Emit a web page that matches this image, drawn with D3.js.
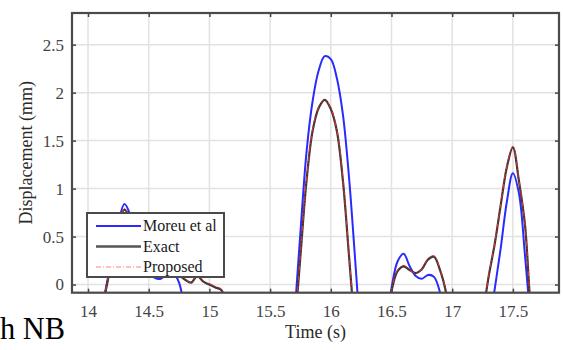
<!DOCTYPE html>
<html>
<head>
<meta charset="utf-8">
<script src="https://cdn.jsdelivr.net/npm/d3@7"></script>
<style>
  html, body { margin: 0; padding: 0; background: #fff; }
  svg { display: block; }
  svg text { font-family: "Liberation Serif", "Times New Roman", "DejaVu Serif", serif !important; }
</style>
</head>
<body>
<svg id="chart" width="563" height="350"></svg>
<script>
// ---- data ----
const times = [13.90,13.95,14.00,14.05,14.10,14.15,14.20,14.25,14.30,14.35,
  14.40,14.45,14.50,14.55,14.60,14.65,14.70,14.75,14.80,14.85,
  14.90,14.95,15.00,15.05,15.10,15.15,15.20,15.25,15.30,15.35,
  15.40,15.45,15.50,15.55,15.60,15.65,15.70,15.75,15.80,15.85,
  15.90,15.95,16.00,16.05,16.10,16.15,16.20,16.25,16.30,16.35,
  16.40,16.45,16.50,16.55,16.60,16.65,16.70,16.75,16.80,16.85,
  16.90,16.95,17.00,17.05,17.10,17.15,17.20,17.25,17.30,17.35,
  17.40,17.45,17.50,17.55,17.60,17.65,17.70,17.75,17.80,17.85];

const moreu = [null,null,null,null,-0.35,-0.02,0.30,0.64,0.84,0.72,
  0.45,0.26,0.13,0.07,0.06,0.11,0.12,0.02,-0.35,null,
  null,null,null,null,null,null,null,null,null,null,
  null,null,null,null,null,null,-0.35,0.55,1.38,1.91,
  2.23,2.38,2.35,2.15,1.77,1.12,0.27,-0.64,null,null,
  null,-0.5,-0.04,0.24,0.32,0.19,0.09,0.06,0.10,0.08,
  -0.085,-0.45,null,null,null,null,null,null,-0.5,-0.05,
  0.38,0.86,1.16,0.95,0.30,-0.45,null,null,null,null];

const exact = [null,null,null,null,-0.38,-0.04,0.28,0.60,0.78,0.68,
  0.45,0.28,0.18,0.13,0.12,0.13,0.13,0.10,0.05,0.02,
  0.09,0.03,0.00,-0.03,-0.06,-0.30,-0.60,null,null,null,
  null,null,null,null,null,null,-0.5,0.30,1.08,1.60,
  1.84,1.925,1.83,1.60,1.08,0.30,-0.5,null,null,null,
  null,-0.5,-0.07,0.14,0.19,0.15,0.12,0.16,0.26,0.29,
  0.15,-0.085,-0.5,null,null,null,null,-0.35,0.08,0.42,
  0.83,1.22,1.43,1.08,0.62,-0.30,-0.80,null,null,null];

const proposed = [null,null,null,null,-0.37,-0.03,0.29,0.61,0.79,0.68,
  0.46,0.28,0.18,0.13,0.12,0.13,0.13,0.10,0.06,0.02,
  0.10,0.04,0.01,-0.02,-0.05,-0.28,-0.60,null,null,null,
  null,null,null,null,null,null,-0.48,0.32,1.09,1.61,
  1.85,1.93,1.84,1.61,1.09,0.32,-0.48,null,null,null,
  null,-0.5,-0.06,0.15,0.20,0.15,0.12,0.16,0.27,0.30,
  0.16,-0.07,-0.5,null,null,null,null,-0.34,0.09,0.43,
  0.84,1.23,1.44,1.09,0.63,-0.28,-0.80,null,null,null];

const seriesNames = ["Moreu et al", "Exact", "Proposed"];
const xTicks = [14, 14.5, 15, 15.5, 16, 16.5, 17, 17.5];
const xTickLabels = ["14", "14.5", "15", "15.5", "16", "16.5", "17", "17.5"];
const yTicks = [0, 0.5, 1, 1.5, 2, 2.5];
const yTickLabels = ["0", "0.5", "1", "1.5", "2", "2.5"];
const xTitle = "Time (s)";
const yTitle = "Displacement (mm)";
const captionText = "h NB";

// ---- layout ----
const FONT = '"Liberation Serif", "Times New Roman", serif';
const L = 72, R = 559, T = 13, B = 292.7;
const svg = d3.select("#chart");
const x = d3.scaleLinear().domain([13.868, 17.88]).range([L, R]);
const y = d3.scaleLinear().domain([-0.085, 2.83]).range([B, T]);

// grid
const grid = svg.append("g");
grid.selectAll("line.gx").data(xTicks).join("line")
  .attr("x1", d => x(d)).attr("x2", d => x(d)).attr("y1", T).attr("y2", B)
  .attr("stroke", "#e2e2e2").attr("stroke-width", 1.5);
grid.selectAll("line.gy").data(yTicks).join("line")
  .attr("x1", L).attr("x2", R).attr("y1", d => y(d)).attr("y2", d => y(d))
  .attr("stroke", "#e2e2e2").attr("stroke-width", 1.5);

// clip
svg.append("clipPath").attr("id", "plotclip").append("rect")
  .attr("x", L).attr("y", T).attr("width", R - L).attr("height", B - T);

const pts = arr => times.map((t, i) => ({t, v: arr[i]}));
const line = d3.line().defined(d => d.v !== null)
  .x(d => x(d.t)).y(d => y(d.v)).curve(d3.curveCatmullRom.alpha(0.5));

const plot = svg.append("g").attr("clip-path", "url(#plotclip)");
plot.append("path").attr("d", line(pts(moreu))).attr("fill", "none")
  .attr("stroke", "#2a2aff").attr("stroke-width", 2);
plot.append("path").attr("d", line(pts(exact))).attr("fill", "none")
  .attr("stroke", "#383838").attr("stroke-width", 2.2);
plot.append("path").attr("d", line(pts(proposed))).attr("fill", "none")
  .attr("stroke", "#ff2a2a").attr("stroke-width", 1).attr("stroke-dasharray", "5,2,1,2");

// axes
const axColor = "#444";
const fmtX = d => xTickLabels[xTicks.indexOf(d)];
const fmtY = d => yTickLabels[yTicks.indexOf(d)];

const gxB = svg.append("g").attr("transform", `translate(0,${B})`)
  .call(d3.axisBottom(x).tickValues(xTicks).tickFormat(fmtX).tickSizeInner(-4).tickSizeOuter(0).tickPadding(12));
const gxT = svg.append("g").attr("transform", `translate(0,${T})`)
  .call(d3.axisTop(x).tickValues(xTicks).tickFormat("").tickSizeInner(-4).tickSizeOuter(0));
const gyL = svg.append("g").attr("transform", `translate(${L},0)`)
  .call(d3.axisLeft(y).tickValues(yTicks).tickFormat(fmtY).tickSizeInner(-4).tickSizeOuter(0).tickPadding(8));
const gyR = svg.append("g").attr("transform", `translate(${R},0)`)
  .call(d3.axisRight(y).tickValues(yTicks).tickFormat("").tickSizeInner(-4).tickSizeOuter(0));

[gxB, gxT, gyL, gyR].forEach(g => {
  g.attr("font-family", FONT).attr("font-size", 17);
  g.select(".domain").remove();
  g.selectAll(".tick line").attr("stroke", axColor).attr("stroke-width", 1.5);
  g.selectAll("text").attr("fill", "#444").attr("font-family", FONT).attr("font-size", 17);
});

// frame
svg.append("rect").attr("x", L).attr("y", T).attr("width", R - L).attr("height", B - T)
  .attr("fill", "none").attr("stroke", "#4a4a4a").attr("stroke-width", 2.2);

// titles
svg.append("text").attr("x", (L + R) / 2).attr("y", 338).attr("text-anchor", "middle")
  .attr("font-family", FONT).attr("font-size", 18)
  .attr("fill", "#2a2a2a").text(xTitle);
svg.append("text").attr("transform", `translate(32,${(T + B) / 2}) rotate(-90)`)
  .attr("font-family", FONT).attr("font-size", 18)
  .attr("text-anchor", "middle").attr("fill", "#2a2a2a").text(yTitle);

// legend
const lg = svg.append("g");
lg.append("rect").attr("x", 87).attr("y", 213).attr("width", 137).attr("height", 64)
  .attr("fill", "#fff").attr("stroke", "#4a4a4a").attr("stroke-width", 2);
const lgStyles = [
  {stroke: "#2a2aff", w: 2, dash: null},
  {stroke: "#555", w: 2.5, dash: null},
  {stroke: "#ff8080", w: 1, dash: "5,2,1,2"}
];
seriesNames.forEach((name, i) => {
  const yy = 226 + i * 20.5;
  const l = lg.append("line").attr("x1", 96).attr("x2", 141).attr("y1", yy).attr("y2", yy)
    .attr("stroke", lgStyles[i].stroke).attr("stroke-width", lgStyles[i].w);
  if (lgStyles[i].dash) l.attr("stroke-dasharray", lgStyles[i].dash);
  lg.append("text").attr("x", 143).attr("y", yy + 5).attr("fill", "#1a1a1a")
    .attr("font-family", FONT).attr("font-size", 16).text(name);
});

// caption fragment
svg.append("text").attr("x", 0).attr("y", 339).attr("fill", "#000")
  .attr("font-family", FONT).attr("font-size", 32)
  .attr("textLength", 65).attr("lengthAdjust", "spacingAndGlyphs")
  .text(captionText);
</script>
</body>
</html>
